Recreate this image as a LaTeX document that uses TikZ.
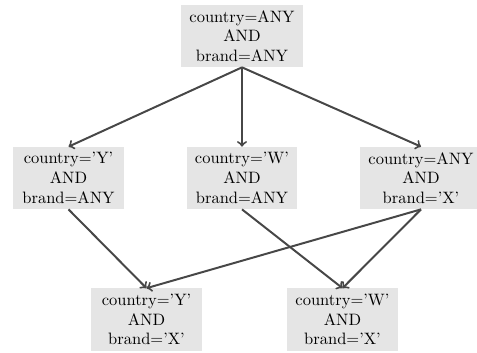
\documentclass[tikz,border=0pt]{standalone}
\begin{document}
\begin{tikzpicture}[x=0.606pt,y=-0.606pt,
  box/.style={fill=black!10, align=center, inner xsep=5pt, inner ysep=3pt, minimum width=67pt, minimum height=37.6pt, font=\normalsize},
  conn/.style={draw=black!72, line width=1.2pt, ->}]
\useasboundingbox (0,0) rectangle (477,352);
\node[box] (top) at (242,36) {country=ANY\\AND\\brand=ANY};
\node[box] (ml) at (68.5,178) {country='Y'\\AND\\brand=ANY};
\node[box] (mc) at (242,178) {country='W'\\AND\\brand=ANY};
\node[box] (mr) at (421,178) {country=ANY\\AND\\brand='X'};
\node[box] (bl) at (146.5,319.5) {country='Y'\\AND\\brand='X'};
\node[box] (br) at (342.5,319.5) {country='W'\\AND\\brand='X'};
\draw[conn] (top.south) -- (ml.north);
\draw[conn] (top.south) -- (mc.north);
\draw[conn] (top.south) -- (mr.north);
\draw[conn] (ml.south) -- (bl.north);
\draw[conn] (mr.south) -- (bl.north);
\draw[conn] (mc.south) -- (br.north);
\draw[conn] (mr.south) -- (br.north);
\end{tikzpicture}
\end{document}
